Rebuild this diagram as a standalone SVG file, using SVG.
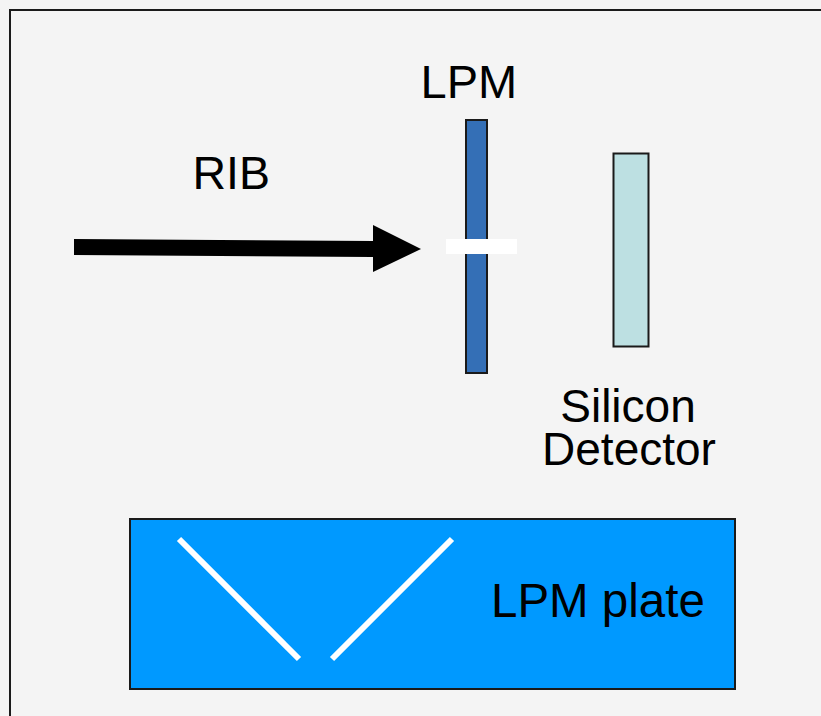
<svg xmlns="http://www.w3.org/2000/svg" width="821" height="716" viewBox="0 0 821 716">
<style>
  .lbl { font-family: "Liberation Sans", Arial, sans-serif; font-size: 46px; fill: #000; }
  .box { stroke: #1a1a1a; stroke-width: 2; }
  .wline { stroke: #ffffff; stroke-width: 6; }
</style>
<rect x="0" y="0" width="821" height="716" fill="#f4f4f4"/>
<rect x="10" y="10" width="840" height="730" fill="#f4f4f4" stroke="#1a1a1a" stroke-width="2"/>
<g id="rib">
  <text class="lbl" x="192.5" y="189" style="font-size:46.5px">RIB</text>
</g>
<g id="lpm">
  <text class="lbl" x="420.5" y="98" style="font-size:47px">LPM</text>
  <rect class="box" x="466" y="120" width="21" height="253" fill="#346fb6"/>
  <rect x="446" y="239" width="71" height="15" fill="#ffffff"/>
</g>
<g id="silicon-detector">
  <rect class="box" x="613.5" y="153.5" width="35" height="193" fill="#bde0e2"/>
  <text class="lbl" x="628" y="421.5" text-anchor="middle">Silicon</text>
  <text class="lbl" x="629" y="465" text-anchor="middle">Detector</text>
</g>
<g id="lpm-plate">
  <rect class="box" x="130" y="519" width="605" height="170" fill="#0099ff"/>
  <line class="wline" x1="179" y1="539" x2="299" y2="659"/>
  <line class="wline" x1="452" y1="539" x2="332" y2="659"/>
  <text class="lbl" x="491" y="616.5" style="font-size:47.5px">LPM plate</text>
</g>
<g id="connectors">
  <polygon points="74,239 373,241 373,225 421,249 373,272 373,257 74,255" fill="#000"/>
</g>
</svg>
